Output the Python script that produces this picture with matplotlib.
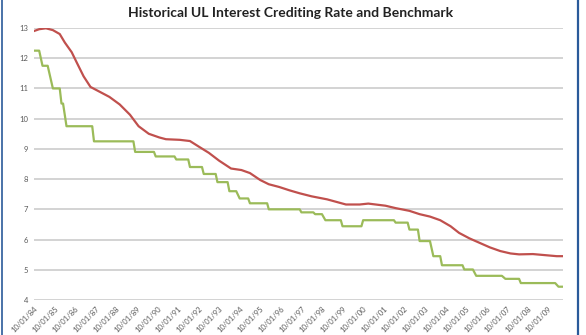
import matplotlib
matplotlib.use("Agg")
import matplotlib.pyplot as plt
import matplotlib.dates as mdates
import pandas as pd
from matplotlib.lines import Line2D

# crediting rate (smooth red line)
rate_dates = ["1984-10", "1985-01", "1985-05", "1985-09", "1986-01", "1986-04",
              "1986-08", "1986-11", "1987-03", "1987-07", "1987-12", "1988-06",
              "1988-12", "1989-06", "1989-11", "1990-05", "1990-11", "1991-03",
              "1991-11", "1992-05", "1992-10", "1993-04", "1993-10", "1994-05",
              "1994-11", "1995-04", "1995-10", "1996-03", "1996-09", "1997-03",
              "1997-09", "1998-04", "1999-01", "1999-12", "2000-08", "2001-01",
              "2001-11", "2002-05", "2003-01", "2003-07", "2004-01", "2004-07",
              "2005-01", "2005-06", "2005-12", "2006-06", "2006-12", "2007-06",
              "2007-12", "2008-05", "2009-01", "2009-09", "2010-03", "2010-06"]
rate_vals = [12.90, 12.96, 12.99, 12.93, 12.80, 12.52,
             12.20, 11.85, 11.40, 11.05, 10.90, 10.72,
             10.47, 10.13, 9.75, 9.50, 9.38, 9.32,
             9.30, 9.26, 9.08, 8.87, 8.61, 8.35,
             8.30, 8.20, 7.97, 7.83, 7.74, 7.63,
             7.53, 7.43, 7.33, 7.16, 7.16, 7.19,
             7.12, 7.04, 6.95, 6.84, 6.76, 6.64,
             6.44, 6.22, 6.04, 5.89, 5.74, 5.62,
             5.54, 5.51, 5.52, 5.48, 5.45, 5.45]

# benchmark (green steps): each level with its first and last month
bench_start = ["1984-10", "1985-03", "1985-09", "1986-02", "1986-05", "1987-09",
               "1989-09", "1990-09", "1991-09", "1992-05", "1993-01", "1993-09",
               "1994-04", "1994-10", "1995-04", "1996-03", "1997-10", "1998-06",
               "1998-12", "1999-10", "2000-10", "2002-05", "2003-01", "2003-07",
               "2004-03", "2004-08", "2005-09", "2006-04", "2007-09", "2008-06",
               "2010-04"]
bench_end = ["1985-01", "1985-06", "1986-01", "1986-03", "1987-08", "1989-08",
             "1990-08", "1991-08", "1992-04", "1992-12", "1993-08", "1994-03",
             "1994-08", "1995-03", "1996-02", "1997-09", "1998-05", "1998-10",
             "1999-09", "2000-09", "2002-04", "2002-12", "2003-06", "2004-01",
             "2004-07", "2005-08", "2006-02", "2007-07", "2008-05", "2010-02",
             "2010-06"]
bench_vals = [12.25, 11.75, 11.0, 10.5, 9.75, 9.25,
              8.90, 8.75, 8.65, 8.40, 8.17, 7.90,
              7.60, 7.36, 7.20, 7.0, 6.90, 6.84,
              6.64, 6.44, 6.64, 6.56, 6.33, 5.95,
              5.45, 5.15, 5.01, 4.80, 4.70, 4.56,
              4.44]

year_ticks = [f"{y}-10-01" for y in range(1984, 2010)]

bx, by = [], []
for s, e, v in zip(bench_start, bench_end, bench_vals):
    bx += [pd.Timestamp(s), pd.Timestamp(e)]
    by += [v, v]

fig = plt.figure(figsize=(5.86, 3.35), dpi=100)
ax = fig.add_axes([34 / 586, 35 / 335, 529 / 586, 272 / 335])

ax.plot(pd.to_datetime(rate_dates), rate_vals, color="#C0504D", lw=1.6, zorder=3)
ax.plot(bx, by, color="#9BBB59", lw=1.6, zorder=3)

ax.set_ylim(4, 13)
ax.set_yticks(range(4, 14))
ax.set_xlim(pd.Timestamp("1984-10-01"), pd.Timestamp("2010-06-20"))
ax.set_xticks(pd.to_datetime(year_ticks))
ax.xaxis.set_major_formatter(mdates.DateFormatter("%m/%d/%y"))
ax.grid(axis="y", color="#D0D0D0", lw=1.3)
ax.set_axisbelow(True)
for sp in ax.spines.values():
    sp.set_visible(False)
ax.tick_params(length=0, labelsize=5.5, colors="#595959")
ax.tick_params(axis="y", pad=4)
for lab in ax.get_xticklabels():
    lab.set_rotation(45)
    lab.set_ha("right")
    lab.set_va("top")
    lab.set_rotation_mode("anchor")
    lab.set_family("Lato")
for lab in ax.get_yticklabels():
    lab.set_family("Lato")

fig.text(0.495, 1 - 13 / 335, "Historical UL Interest Crediting Rate and Benchmark",
         ha="center", va="center", fontsize=10, fontweight="bold",
         family="Lato", color="#222222")

# blue frame edges
fig.add_artist(Line2D([2 / 586, 2 / 586], [0, 1], color="#2A5A9A", lw=1.2,
                      transform=fig.transFigure))
fig.add_artist(Line2D([578 / 586, 578 / 586], [0, 1], color="#2A5A9A", lw=1.6,
                      transform=fig.transFigure))

fig.savefig("out.png", dpi=100)
